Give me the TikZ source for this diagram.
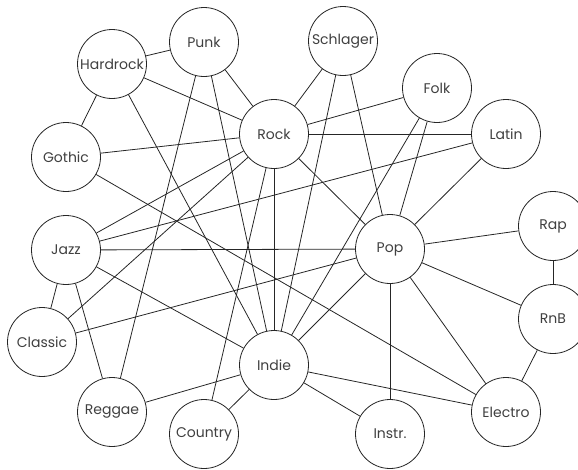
\documentclass[tikz,border=0pt]{standalone}
\usepackage{fontspec}
\setmainfont{Poppins}
\begin{document}
\begin{tikzpicture}[x=1pt,y=-1pt,
  genre/.style={draw=black!85, line width=0.8pt, circle, minimum size=69pt, inner sep=0pt,
    font=\fontsize{14}{16}\selectfont, text=black!75, fill=white},
  link/.style={draw=black!85, line width=0.8pt}]
\useasboundingbox (0,0) rectangle (578,469);
% genre nodes
\node[genre] (punk)     at (204,42)  {Punk};
\node[genre] (hardrock) at (112,64)  {Hardrock};
\node[genre] (schlager) at (343,41)  {Schlager};
\node[genre] (folk)     at (437,88)  {Folk};
\node[genre] (gothic)   at (66,157)  {Gothic};
\node[genre] (rock)     at (274,134) {Rock};
\node[genre] (latin)    at (506,134) {Latin};
\node[genre] (rap)      at (553,226) {Rap};
\node[genre] (jazz)     at (66,250)  {Jazz};
\node[genre] (pop)      at (390,249) {Pop};
\node[genre] (rnb)      at (553,319) {RnB};
\node[genre] (classic)  at (42,342)  {Classic};
\node[genre] (indie)    at (274,365) {Indie};
\node[genre] (electro)  at (506,412) {Electro};
\node[genre] (reggae)   at (112,412) {Reggae};
\node[genre] (country)  at (204,434) {Country};
\node[genre] (instr)    at (390,434) {Instr.};
% connections between genres
\foreach \a/\b in {hardrock/punk, hardrock/rock, hardrock/gothic, hardrock/indie,
  punk/rock, punk/indie, punk/reggae,
  gothic/rock, gothic/electro,
  rock/jazz, rock/classic, rock/country, rock/indie, rock/schlager, rock/folk, rock/latin, rock/pop,
  latin/jazz, latin/pop,
  schlager/pop, schlager/indie,
  folk/indie, folk/pop,
  pop/jazz, pop/classic, pop/indie, pop/rap, pop/rnb, pop/electro, pop/instr,
  rap/rnb, rnb/electro,
  indie/electro, indie/instr, indie/country, indie/reggae, indie/jazz,
  jazz/classic, jazz/reggae}
  \draw[link] (\a) -- (\b);
\end{tikzpicture}
\end{document}
